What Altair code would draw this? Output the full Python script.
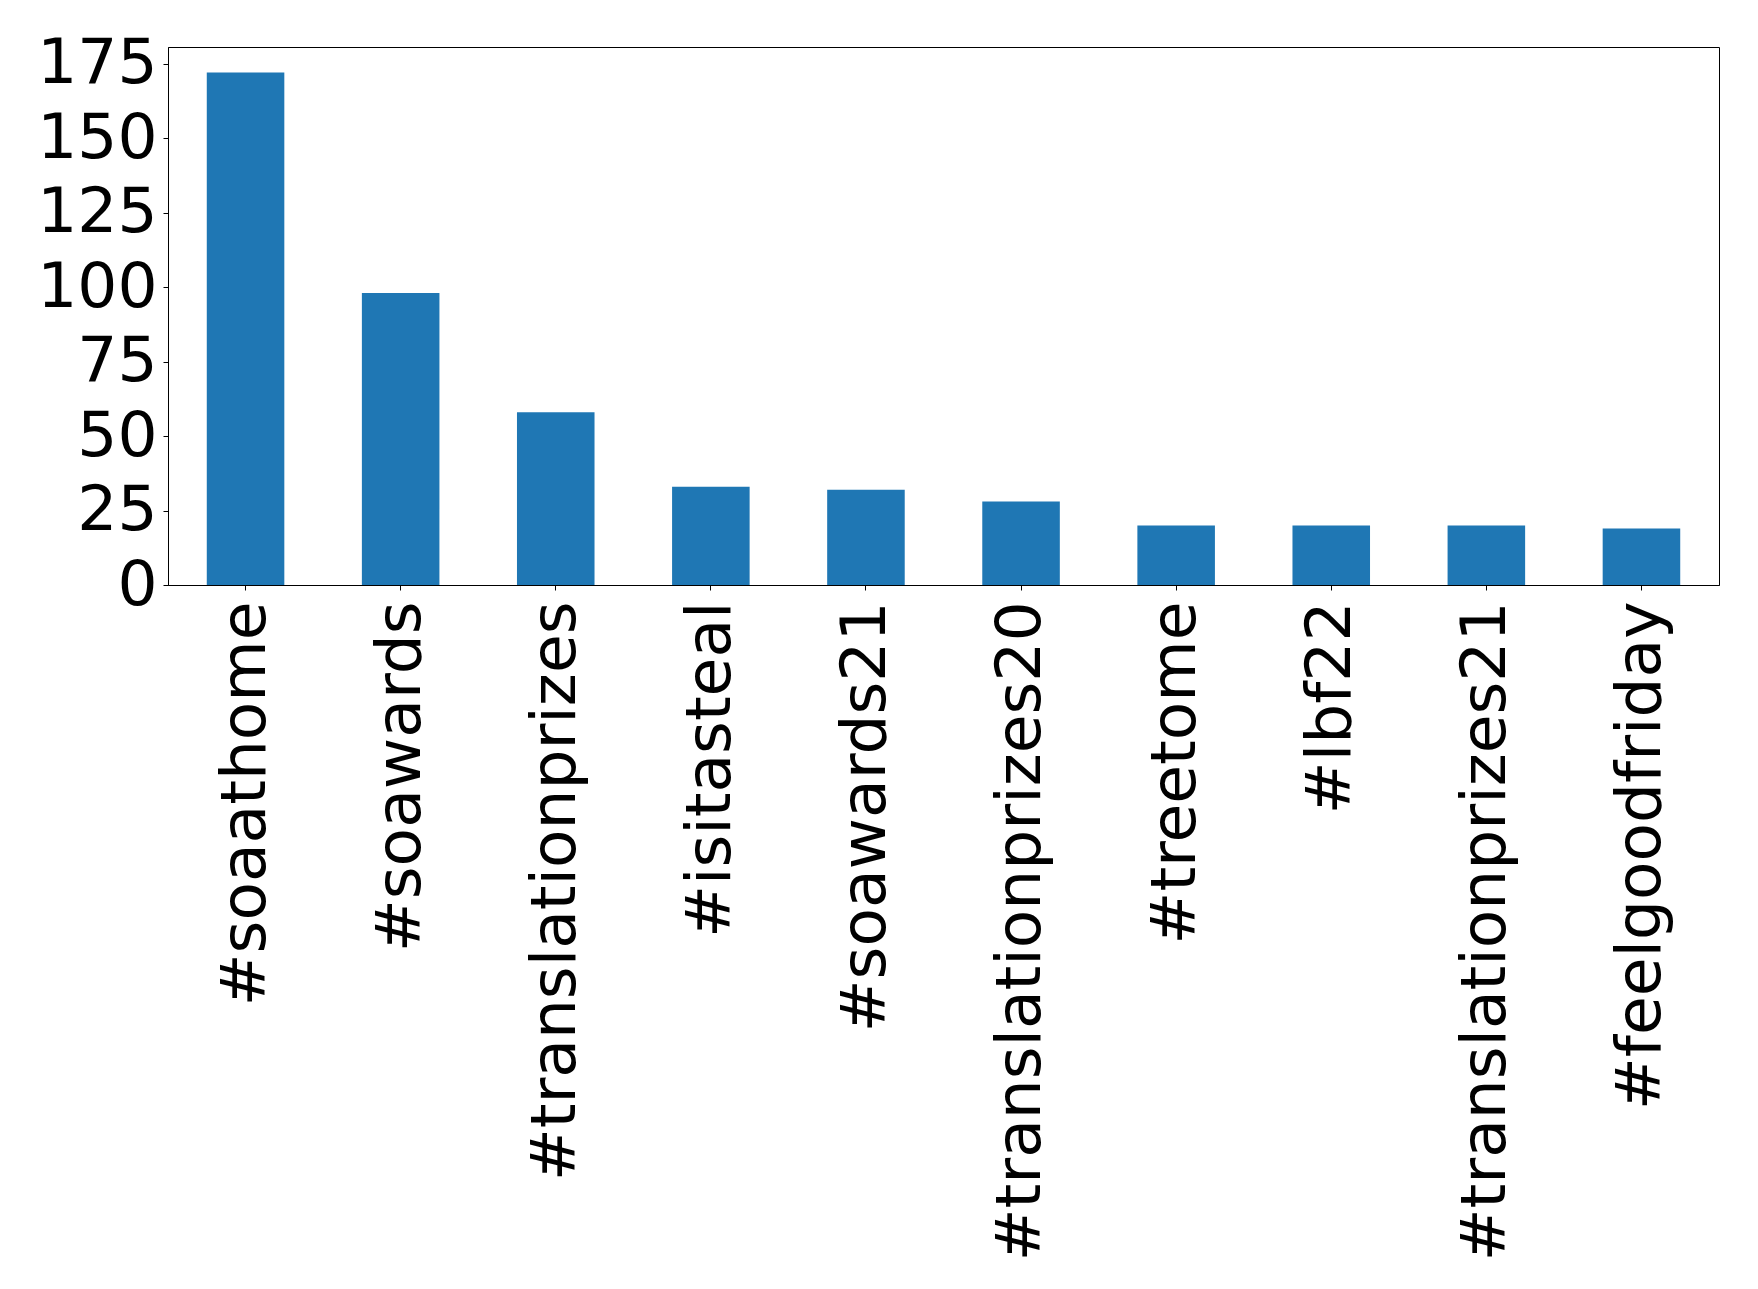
import altair as alt
import pandas as pd

tags = ["#soaathome", "#soawards", "#translationprizes", "#isitasteal", "#soawards21",
        "#translationprizes20", "#treetome", "#lbf22", "#translationprizes21", "#feelgoodfriday"]
counts = [172, 98, 58, 33, 32, 28, 20, 20, 20, 19]

df = pd.DataFrame({"tag": tags, "count": counts})

FONT = "DejaVu Sans"
FS = 63

chart = alt.Chart(df).mark_bar(color="#1f77b4").encode(
    x=alt.X("tag:N", sort=tags,
            scale=alt.Scale(paddingInner=0.5, paddingOuter=0.25),
            axis=alt.Axis(title=None, labelAngle=-90, labelAlign="right", labelBaseline="middle",
                          labelFont=FONT, labelFontSize=FS, labelColor="black", labelLimit=0,
                          tickColor="black", tickSize=5, tickWidth=1, labelPadding=11,
                          domainColor="black", domainWidth=1, grid=False)),
    y=alt.Y("count:Q", scale=alt.Scale(domain=[0, 180.6], nice=False),
            axis=alt.Axis(title=None, values=[0, 25, 50, 75, 100, 125, 150, 175],
                          labelFont=FONT, labelFontSize=FS, labelColor="black",
                          tickColor="black", tickSize=5, tickWidth=1, labelPadding=6,
                          domainColor="black", domainWidth=1, grid=False)),
).properties(
    width=1551, height=538,
    background="white",
    padding={"left": 28, "top": 24, "right": 5, "bottom": 5},
).configure_view(stroke="black", strokeWidth=1)

chart.save("out.html", embed_options={"renderer": "svg", "actions": False})
